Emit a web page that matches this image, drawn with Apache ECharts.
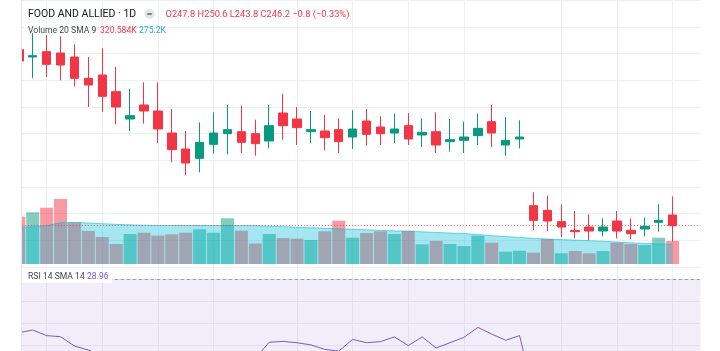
<!DOCTYPE html>
<html>
<head>
<meta charset="utf-8">
<script src="https://cdn.jsdelivr.net/npm/echarts@6.0.0/dist/echarts.min.js"></script>
<style>
  html, body { margin: 0; padding: 0; background: #fff; }
  #chart { width: 720px; height: 351px; }
</style>
</head>
<body>
<div id="chart"></div>
<script>
// daily bars, index only (dates are not shown on the picture)
const categories = [
  "1", "2", "3", "4", "5", "6", "7", "8", "9", "10",
  "11", "12", "13", "14", "15", "16", "17", "18", "19", "20",
  "21", "22", "23", "24", "25", "26", "27", "28", "29", "30",
  "31", "32", "33", "34", "35", "36", "37", "38", "39", "40",
  "41", "42", "43", "44", "45", "46", "47", "48", "49", "50"
];

const open = [
  272.6, 271.5, 272.3, 272.1, 271.5, 268.3, 268.8, 266.3, 262.2, 264.3,
  263.4, 260.1, 257.7, 256.3, 258.4, 260.0, 260.3, 260.0, 258.9, 263.1,
  262.2, 260.3, 260.4, 260.6, 259.5, 261.9, 261.0, 260.1, 261.2, 259.8,
  260.3, 258.8, 259.0, 259.7, 261.8, 258.3, 259.2, 249.2, 248.5, 246.8,
  245.5, 246.0, 245.4, 246.9, 245.5, 245.7, 246.7, 247.8
];
const close = [
  270.9, 271.7, 270.4, 270.3, 268.3, 267.3, 265.6, 264.0, 262.7, 263.4,
  260.7, 257.6, 255.6, 258.7, 260.1, 260.6, 258.7, 258.5, 261.2, 261.2,
  260.9, 260.6, 259.4, 258.8, 260.7, 259.9, 260.0, 260.7, 259.2, 260.2,
  258.3, 259.1, 259.5, 260.8, 260.1, 259.0, 259.5, 247.0, 246.9, 246.0,
  245.3, 245.4, 246.0, 245.4, 245.0, 246.1, 247.0, 246.2
];
const low = [
  270.6, 268.3, 268.5, 268.0, 267.1, 264.0, 263.3, 261.4, 260.4, 261.5,
  258.6, 255.7, 253.8, 254.2, 257.0, 256.9, 257.1, 256.7, 257.8, 259.1,
  258.3, 258.6, 257.5, 257.1, 257.7, 258.2, 258.3, 258.6, 258.3, 258.0,
  257.1, 257.3, 257.1, 258.3, 258.0, 256.7, 257.8, 245.5, 245.4, 244.5,
  244.3, 244.0, 244.6, 244.3, 244.2, 244.6, 245.3, 243.8
];
const high = [
  273.3, 275.1, 274.8, 274.6, 273.4, 271.5, 272.8, 270.0, 266.7, 267.7,
  267.7, 263.7, 260.4, 261.7, 263.2, 264.3, 264.2, 262.1, 264.3, 266.0,
  264.0, 263.4, 262.8, 262.3, 263.5, 263.7, 262.6, 263.0, 263.1, 262.3,
  263.2, 262.2, 261.8, 263.0, 264.3, 262.5, 262.0, 251.2, 250.7, 249.4,
  248.4, 247.9, 247.3, 248.4, 247.3, 247.4, 249.4, 250.6
];

// volume in thousands, 1 = up bar colour, 0 = down bar colour
const volumeK = [
  659, 721, 785, 906, 581, 460, 376, 279, 418, 436,
  395, 414, 436, 484, 436, 637, 464, 285, 418, 362,
  353, 335, 456, 604, 367, 432, 456, 418, 464, 274,
  321, 279, 251, 395, 297, 172, 185, 158, 349, 149,
  181, 149, 181, 297, 279, 265, 367, 320.584
];
const volumeUp = [
  0, 1, 0, 0, 0, 0, 0, 0, 1, 0,
  0, 0, 0, 1, 1, 1, 0, 0, 1, 0,
  0, 1, 0, 0, 1, 0, 0, 1, 0, 1,
  0, 1, 1, 1, 0, 1, 1, 0, 0, 1,
  0, 0, 1, 0, 0, 1, 1, 0
];
const volumeSmaK = [
  512, 515, 535, 575, 580, 572, 562, 553, 546, 541,
  538, 537, 537, 537, 536, 536, 535, 534, 528, 520,
  512, 505, 497, 490, 483, 476, 469, 462, 456, 448,
  440, 432, 425, 410, 395, 382, 370, 358, 347, 340,
  333, 325, 316, 306, 296, 286, 280, 275.2
];

const rsi = [
  45.8, 47.0, 44.5, 44.0, 39.8, 38.0, 35.5, 33.0, 33.8, 33.0,
  30.5, 27.5, 25.5, 29.0, 31.5, 32.5, 31.5, 34.2, 41.5, 41.9,
  41.3, 40.3, 38.3, 37.5, 42.8, 41.3, 41.8, 43.9, 40.0, 43.9,
  38.9, 41.3, 43.7, 48.2, 45.2, 42.4, 44.5, 18.5, 17.0, 16.0,
  15.5, 15.0, 17.5, 19.0, 18.5, 22.0, 27.0, 28.96
];

// bars that carry a vertical grid line
const gridBars = [2, 6, 10, 14, 20, 24, 28, 32, 39, 43, 47];
const lastPrice = 246.2;

const UP = "#089981";
const DOWN = "#f23645";
const GRID = "#eceff4";
const FONT = "Roboto";

const chart = echarts.init(document.getElementById("chart"), null, { renderer: "canvas" });

const xAxis = (gridIndex, split) => ({
  type: "category",
  gridIndex,
  data: categories,
  boundaryGap: false,
  axisLine: { show: false },
  axisTick: { show: false },
  axisLabel: { show: false },
  splitLine: {
    show: split,
    interval: (i) => gridBars.includes(i),
    lineStyle: { color: GRID, width: 1 }
  }
});

const gridBox = { left: 18.8, right: 19.6, outerBoundsMode: "none" };

chart.setOption({
  animation: false,
  backgroundColor: "#ffffff",
  grid: [
    { ...gridBox, top: 0, height: 267 },
    { ...gridBox, top: 0, height: 264 },
    { ...gridBox, top: 267, height: 167.4 }
  ],
  xAxis: [xAxis(0, true), xAxis(1, false), xAxis(2, true)],
  yAxis: [
    {
      type: "value", gridIndex: 0, min: 240, max: 280.05, interval: 4,
      axisLine: { show: false },
      axisTick: { show: false }, axisLabel: { show: false },
      splitLine: { lineStyle: { color: GRID } }
    },
    { type: "value", gridIndex: 1, min: 0, max: 3680, show: false },
    {
      type: "value", gridIndex: 2, min: 0, max: 75.4, interval: 10,
      axisLine: { show: false },
      axisTick: { show: false }, axisLabel: { show: false },
      splitLine: { lineStyle: { color: GRID } }
    }
  ],
  series: [
    {
      name: "Volume",
      type: "bar",
      xAxisIndex: 1,
      yAxisIndex: 1,
      barWidth: 13,
      data: volumeK,
      itemStyle: {
        color: (p) => (volumeUp[p.dataIndex] ? "rgba(8,153,129,0.5)" : "rgba(242,54,69,0.5)")
      },
      z: 1
    },
    {
      name: "Volume SMA",
      type: "line",
      xAxisIndex: 1,
      yAxisIndex: 1,
      data: volumeSmaK,
      symbol: "none",
      lineStyle: { color: "rgba(0,188,212,0.55)", width: 1 },
      areaStyle: { color: "rgba(0,188,212,0.5)" },
      z: 2
    },
    {
      name: "FOOD AND ALLIED",
      type: "candlestick",
      xAxisIndex: 0,
      yAxisIndex: 0,
      barWidth: 9,
      clip: true,
      data: open.map((o, i) => [o, close[i], low[i], high[i]]),
      itemStyle: {
        color: UP, color0: DOWN,
        borderColor: UP, borderColor0: DOWN,
        borderWidth: 1
      },
      markLine: {
        silent: true,
        symbol: ["none", "none"],
        label: { show: false },
        lineStyle: { color: DOWN, type: [1, 2], width: 1, opacity: 0.8 },
        data: [{ yAxis: lastPrice }]
      },
      z: 5
    },
    {
      name: "RSI",
      type: "line",
      xAxisIndex: 2,
      yAxisIndex: 2,
      data: rsi,
      symbol: "none",
      lineStyle: { color: "#7e57c2", width: 1 },
      markArea: {
        silent: true,
        itemStyle: { color: "rgba(126,87,194,0.1)" },
        data: [[{ yAxis: 70 }, { yAxis: 30 }]]
      },
      markLine: {
        silent: true,
        symbol: ["none", "none"],
        label: { show: false },
        lineStyle: { color: "#9598a1", type: [3, 3], width: 1 },
        data: [{ yAxis: 70 }]
      },
      z: 3
    }
  ],
  graphic: [
    // pane edge: the series scroll under it on the left
    { type: "rect", z: 50, shape: { x: 0, y: 0, width: 21, height: 351 }, style: { fill: "#ffffff" } },
    { type: "rect", z: 51, shape: { x: 21, y: 0, width: 1, height: 351 }, style: { fill: "#e3e4ec" } },
    {
      type: "text", z: 100,
      style: { x: 28, y: 14.5, text: "FOOD AND ALLIED · 1D", fill: "#131722", fontSize: 10.5, fontFamily: FONT, verticalAlign: "middle" }
    },
    { type: "circle", z: 100, shape: { cx: 149.5, cy: 14, r: 5 }, style: { fill: "#e3e5ea" } },
    { type: "rect", z: 101, shape: { x: 147.3, y: 13.3, width: 4.4, height: 1.4 }, style: { fill: "#50535e" } },
    {
      type: "text", z: 100,
      style: { x: 165.5, y: 14.5, text: "O247.8 H250.6 L243.8 C246.2 −0.8 (−0.33%)", fill: DOWN, fontSize: 9.3, fontFamily: FONT, verticalAlign: "middle" }
    },
    {
      type: "text", z: 100,
      style: { x: 28, y: 31, text: "Volume 20 SMA 9", fill: "#434651", fontSize: 8.6, fontFamily: FONT, verticalAlign: "middle" }
    },
    {
      type: "text", z: 100,
      style: { x: 100, y: 31, text: "320.584K", fill: DOWN, fontSize: 8.6, fontFamily: FONT, verticalAlign: "middle" }
    },
    {
      type: "text", z: 100,
      style: { x: 139, y: 31, text: "275.2K", fill: "#26aec6", fontSize: 8.6, fontFamily: FONT, verticalAlign: "middle" }
    },
    { type: "rect", z: 99, shape: { x: 22, y: 271, width: 90, height: 12 }, style: { fill: "#ffffff" } },
    {
      type: "text", z: 100,
      style: { x: 28, y: 277, text: "RSI 14 SMA 14", fill: "#434651", fontSize: 8.6, fontFamily: FONT, verticalAlign: "middle" }
    },
    {
      type: "text", z: 100,
      style: { x: 87, y: 277, text: "28.96", fill: "#7e57c2", fontSize: 8.6, fontFamily: FONT, verticalAlign: "middle" }
    }
  ]
});
</script>
</body>
</html>
